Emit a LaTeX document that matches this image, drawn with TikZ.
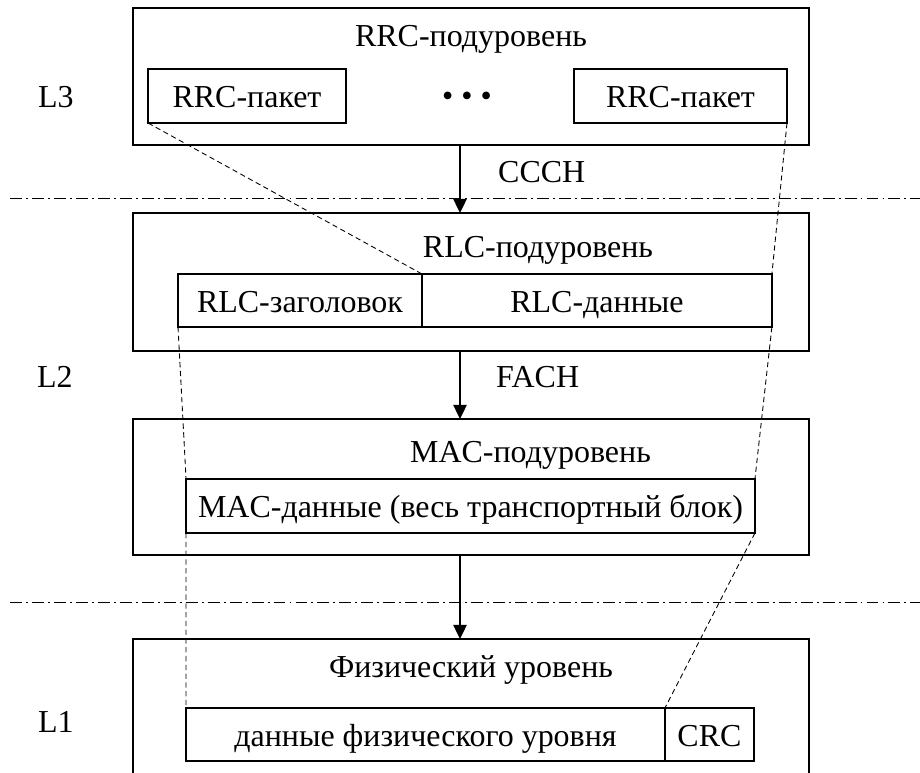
\documentclass[tikz,border=0pt]{standalone}
\usepackage{fontspec}
\setmainfont{Liberation Serif}
\usetikzlibrary{positioning,arrows.meta}

\begin{document}
\begin{tikzpicture}[x=0.02cm,y=-0.02cm,
  font=\fontsize{18.2}{22}\selectfont,
  layer/.style={draw,rectangle,line width=1.1pt,minimum width=13.52cm,inner sep=0pt,outer sep=0pt},
  cell/.style={draw,rectangle,line width=1pt,inner sep=0pt,outer sep=0pt,text height=13.1pt,text depth=0pt},
  flow/.style={line width=1.1pt,-{Triangle[length=8pt,width=7.5pt]}},
  map/.style={line width=0.5pt,dash pattern=on 3pt off 2pt},
  border/.style={line width=0.5pt,dash pattern=on 6.8pt off 2.3pt on 1.1pt off 2.3pt}]
\useasboundingbox (0,0) rectangle (920,773);
\clip (0,0) rectangle (920,773);

% sublayers
\node[layer,minimum height=2.74cm] (rrc) at (471,76.5) {};
\node[layer,minimum height=2.76cm] (rlc) at (471,282) {};
\node[layer,minimum height=2.72cm] (mac) at (471,487) {};
\node[layer,minimum height=3.22cm] (phy) at (471,719.5) {};

\node[anchor=base] (rrctitle) at (471,47) {RRC-подуровень};
\node[anchor=base] (rlctitle) at (538,258) {RLC-подуровень};
\node[anchor=base] (mactitle) at (530.5,463) {MAC-подуровень};
\node[anchor=base] (phytitle) at (471,677) {Физический уровень};

% blocks
\node[cell,minimum width=3.96cm,minimum height=1.08cm] (rrcpkt1) at (247,96) {RRC-пакет};
\node[cell,minimum width=4.26cm,minimum height=1.08cm] (rrcpkt2) at (680.5,96) {RRC-пакет};
\node (dots) at (467,99) {• • •};
\node[cell,minimum width=4.88cm,minimum height=1.06cm] (rlchdr) at (300,300.5) {RLC-заголовок};
\node[cell,minimum width=7cm,minimum height=1.06cm,right=0pt of rlchdr] (rlcdata) {RLC-данные};
\node[cell,minimum width=11.38cm,minimum height=1.08cm] (macdata) at (470.5,506) {MAC-данные (весь транспортный блок)};
\node[cell,minimum width=9.58cm,minimum height=1.06cm] (phydata) at (425.5,734.5) {данные физического уровня};
\node[cell,minimum width=1.78cm,minimum height=1.06cm,right=0pt of phydata] (crc) {CRC};

% levels
\node[anchor=base west] (l3) at (32,108) {L3};
\node[anchor=base west] (l2) at (31,388) {L2};
\node[anchor=base west] (l1) at (32,732) {L1};

\draw[border] (10,198) -- (920,198);
\draw[border] (10,602) -- (920,602);

% channels
\coordinate (axis) at (460,0);
\draw[flow] (axis |- rrc.south) -- (axis |- rlc.north);
\draw[flow] (axis |- rlc.south) -- (axis |- mac.north);
\draw[flow] (axis |- mac.south) -- (axis |- phy.north);
\node[anchor=base west] (ccch) at (492,183) {CCCH};
\node[anchor=base west] (fach) at (490,388) {FACH};

% mapping
\draw[map] (rrcpkt1.south west) -- (rlchdr.north east);
\draw[map] (rrcpkt2.south east) -- (rlcdata.north east);
\draw[map] (rlchdr.south west) -- (macdata.north west);
\draw[map] (rlcdata.south east) -- (macdata.north east);
\draw[map] (macdata.south west) -- (phydata.north west);
\draw[map] (macdata.south east) -- (crc.north west);
\end{tikzpicture}
\end{document}
